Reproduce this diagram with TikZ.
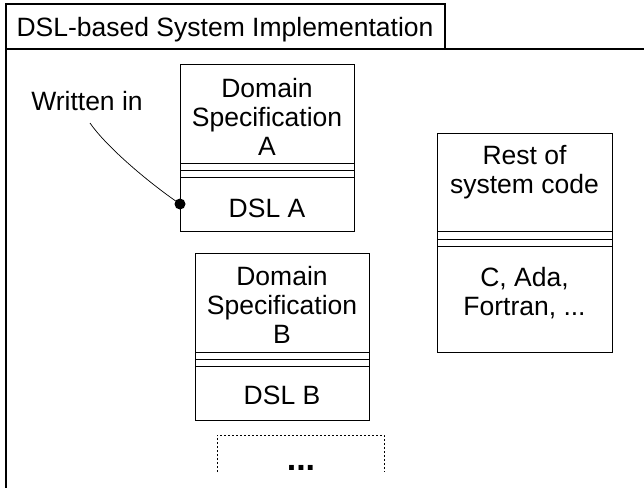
\documentclass[tikz,border=0pt]{standalone}
\usepackage{fontspec}
\setmainfont{Liberation Sans}
\begin{document}
\begin{tikzpicture}[x=1pt,y=-1pt,
  every node/.style={inner sep=0pt, outer sep=0pt},
  txt/.style={font=\fontsize{26.5}{29}\selectfont, align=center, anchor=base},
  box/.style={draw, line width=1pt, anchor=north west},
  sep/.style={line width=1pt},
  frameline/.style={line width=1.1pt}]
\useasboundingbox (0,0) rectangle (644,487);
% frame
\node[box, line width=1.1pt, minimum width=439pt, minimum height=45pt] (title) at (6,4) {};
\node[txt] (titletext) at (225,37) {DSL-based System Implementation};
\draw[frameline] (title.south east) -- (650,49);
\draw[frameline] (title.south west) -- (6,495);
% box A
\node[box, minimum width=174pt, minimum height=167pt] (A) at (180,64) {};
\foreach \yy in {163,170,177} \draw[sep] (A.west |- 0,\yy) -- (A.east |- 0,\yy);
\node[txt] (Atop) at (267,155) {Domain\\Specification\\A};
\node[txt] (Abot) at (267,217) {DSL A};
% box B
\node[box, minimum width=174pt, minimum height=167pt] (B) at (195,253) {};
\foreach \yy in {352,359,366} \draw[sep] (B.west |- 0,\yy) -- (B.east |- 0,\yy);
\node[txt] (Btop) at (282,343) {Domain\\Specification\\B};
\node[txt] (Bbot) at (282,404) {DSL B};
% rest box
\node[box, minimum width=175pt, minimum height=219pt] (R) at (437,133) {};
\foreach \yy in {231,239,246} \draw[sep] (R.west |- 0,\yy) -- (R.east |- 0,\yy);
\node[txt] (Rtop) at (524.5,193) {Rest of\\system code};
\node[txt] (Rbot) at (524.5,315) {C, Ada,\\Fortran, ...};
% dotted box
\draw[line width=0.9pt, dash pattern=on 2pt off 2pt] (217,472) -- (217,435) -- (384,435) -- (384,472);
\node[txt, font=\fontsize{34}{36}\selectfont\bfseries] (more) at (301,470) {...};
% written in
\node[txt] (wr) at (87,110) {Written in};
\coordinate (dA) at (A.west |- 0,204);
\draw[line width=0.7pt] ([xshift=3pt,yshift=-13pt]wr.base) .. controls (105,145) and (145,180) .. (dA);
\fill (dA) circle (5.5pt);
\end{tikzpicture}
\end{document}
